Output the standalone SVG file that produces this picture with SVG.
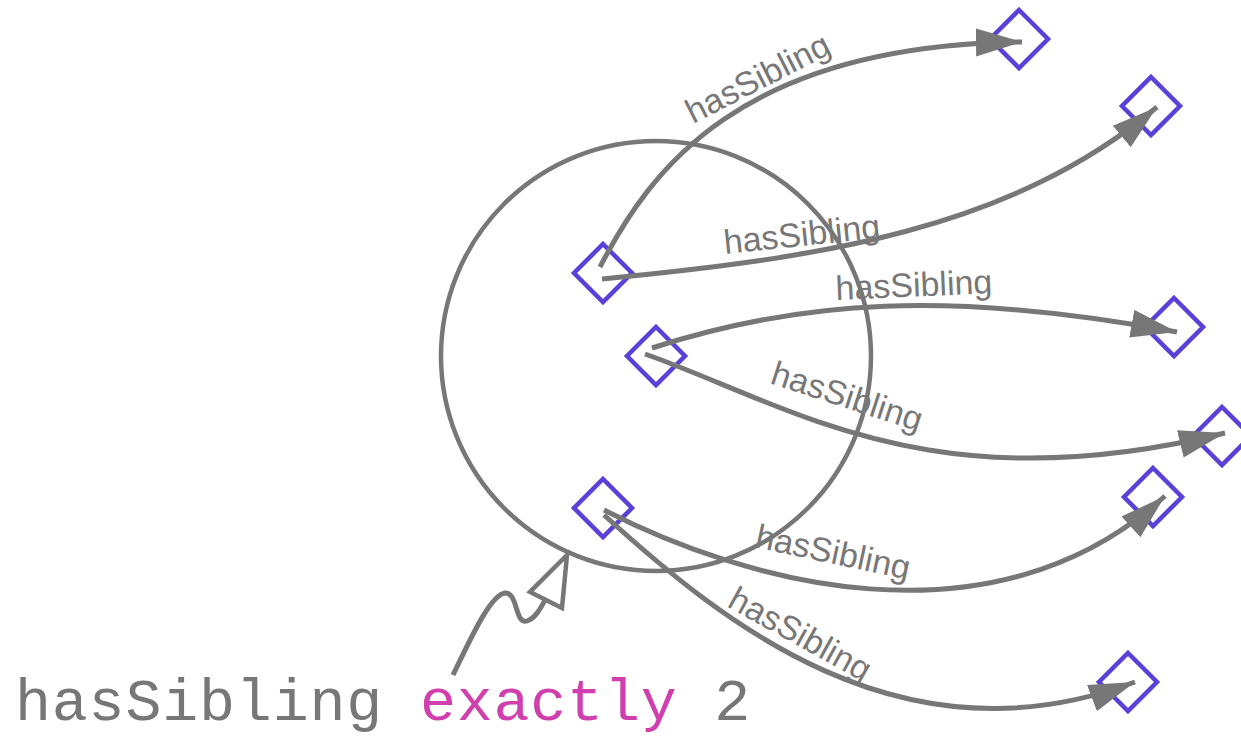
<svg xmlns="http://www.w3.org/2000/svg" width="1241" height="737" viewBox="0 0 1241 737">
<style>
.node{fill:none;stroke:#5a3fd9;stroke-width:4.5}
.edge{fill:none;stroke:#777;stroke-width:5}
.lbl{font-family:"Liberation Sans",Arial,sans-serif;font-size:34px;fill:#777}
.ring{fill:none;stroke:#777;stroke-width:4.5}
.mono{font-family:"Liberation Mono","Courier New",monospace;font-size:60px;letter-spacing:0.8px}
</style>
<defs>
<marker id="ah" markerUnits="userSpaceOnUse" markerWidth="48" markerHeight="30" refX="46" refY="14" orient="auto">
<path d="M0,0 L46,14 L0,28 Z" fill="#777"/>
</marker>
</defs>
<rect width="1241" height="737" fill="#fff"/>
<ellipse id="circle" class="ring" cx="656" cy="356" rx="215" ry="215"/>
<g id="nodes">
<g id="d1"><polygon class="node" points="603,244 632,273 603,302 574,273"/></g>
<g id="d2"><polygon class="node" points="656,327 685,356 656,385 627,356"/></g>
<g id="d3"><polygon class="node" points="603,479 632,508 603,537 574,508"/></g>
<g id="t1"><polygon class="node" points="1019,10 1048,39 1019,68 990,39"/></g>
<g id="t2"><polygon class="node" points="1151,77 1180,106 1151,135 1122,106"/></g>
<g id="t3"><polygon class="node" points="1174,298 1203,327 1174,356 1145,327"/></g>
<g id="t4"><polygon class="node" points="1222,407 1251,436 1222,465 1193,436"/></g>
<g id="t5"><polygon class="node" points="1153,468 1182,497 1153,526 1124,497"/></g>
<g id="t6"><polygon class="node" points="1128,653 1157,682 1128,711 1099,682"/></g>
</g>
<g id="connectors">
<path class="edge" marker-end="url(#ah)" d="M600,267 C650,170 740,45 1022,42"/>
<path class="edge" marker-end="url(#ah)" d="M602,279 C820,258 1010,230 1157,107"/>
<path class="edge" marker-end="url(#ah)" d="M652,348 C800,300 950,290 1177,332"/>
<path class="edge" marker-end="url(#ah)" d="M645,354 C790,405 930,505 1225,433"/>
<path class="edge" marker-end="url(#ah)" d="M604,510 C740,580 990,655 1165,496"/>
<path class="edge" marker-end="url(#ah)" d="M604,515 C720,620 900,770 1135,682"/>
<path class="edge" d="M453,675 C470,640 490,595 505,593 C518,592 515,625 527,621 C535,618 540,610 546,598"/>
<polygon points="567,555 530,592 562,608" fill="#fff" stroke="#777" stroke-width="4.5" stroke-linejoin="miter"/>
</g>
<g id="labels">
<text class="lbl" transform="translate(693,124) rotate(-27)">hasSibling</text>
<text class="lbl" transform="translate(725,254) rotate(-6)">hasSibling</text>
<text class="lbl" transform="translate(836,300) rotate(-2.5)">hasSibling</text>
<text class="lbl" transform="translate(769,383) rotate(18)">hasSibling</text>
<text class="lbl" transform="translate(754,547) rotate(12)">hasSibling</text>
<text class="lbl" transform="translate(726,606) rotate(29)">hasSibling</text>
</g>
<text class="mono" x="15" y="720"><tspan fill="#777">hasSibling </tspan><tspan fill="#d03fad">exactly</tspan><tspan fill="#777"> 2</tspan></text>
</svg>
